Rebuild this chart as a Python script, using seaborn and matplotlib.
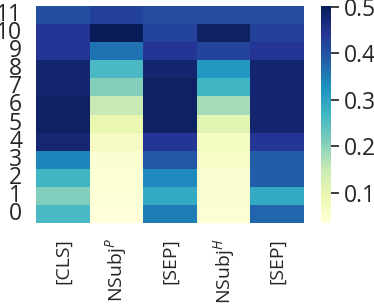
import numpy as np
import pandas as pd
import matplotlib
matplotlib.use('Agg')
import matplotlib.pyplot as plt
import seaborn as sns

# tokens (columns) and layers (rows, 0 at bottom)
tokens = ['[CLS]', 'NSubj$^P$', '[SEP]', 'NSubj$^H$', '[SEP]']
layers = list(range(12))

# attention values per token, layer 0 .. 11
cls_vals = [0.26, 0.21, 0.27, 0.34, 0.475, 0.49, 0.49, 0.477, 0.477, 0.44, 0.44, 0.407]
nsubj_p = [0.035, 0.042, 0.045, 0.05, 0.068, 0.10, 0.15, 0.205, 0.26, 0.36, 0.502, 0.425]
sep1_vals = [0.35, 0.29, 0.335, 0.395, 0.44, 0.49, 0.49, 0.49, 0.48, 0.44, 0.42, 0.41]
nsubj_h = [0.045, 0.048, 0.05, 0.06, 0.07, 0.11, 0.18, 0.27, 0.315, 0.42, 0.49, 0.41]
sep2_vals = [0.375, 0.29, 0.385, 0.385, 0.44, 0.48, 0.48, 0.48, 0.48, 0.44, 0.425, 0.41]

data = np.array([cls_vals, nsubj_p, sep1_vals, nsubj_h, sep2_vals]).T
df = pd.DataFrame(data, index=layers, columns=tokens)

sns.set(font_scale=1.5)
plt.rcParams['font.family'] = ['Open Sans', 'DejaVu Sans']
plt.rcParams['mathtext.fontset'] = 'custom'
plt.rcParams['mathtext.rm'] = 'Open Sans'
plt.rcParams['mathtext.it'] = 'Open Sans:italic'

fig = plt.figure(figsize=(3.74, 3.07), dpi=100)
ax = fig.add_axes([36/374, 84/307, 268/374, 217/307])
cax = fig.add_axes([321/374, 84/307, 10/374, 217/307])

sns.heatmap(df, cmap='YlGnBu', ax=ax, cbar_ax=cax, xticklabels=tokens, yticklabels=layers)
ax.invert_yaxis()
ax.tick_params(axis='y', labelrotation=0, pad=4)
ax.tick_params(axis='x', labelrotation=90, pad=5, labelsize=14)
cax.set_yticks([0.1, 0.2, 0.3, 0.4, 0.5])

fig.savefig('out.png', dpi=100)
